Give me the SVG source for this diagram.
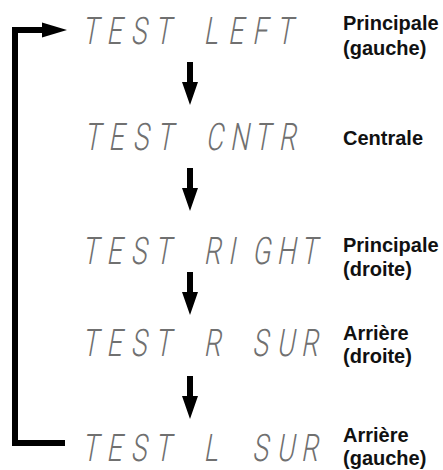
<svg xmlns="http://www.w3.org/2000/svg" width="443" height="470" viewBox="0 0 443 470">
<defs>
<style>
.lcd{font-family:Roboto,"Liberation Sans",sans-serif;font-weight:300;font-size:38px;fill:#707070}
.lbl{font-family:"Liberation Sans",Arial,sans-serif;font-weight:bold;font-size:20px;fill:#111}
.ln{stroke:#000;stroke-width:6;fill:none}
.hd{fill:#000}
</style>
<path id="dn" d="M-3,0 H3 V20 H8 L0,43 L-8,20 H-3 Z"/>
</defs>
<rect width="443" height="470" fill="#fff"/>
<g id="n1">
<text class="lcd" transform="translate(82,44) skewX(-10) scale(0.7,1)" x="0 34.7 69.4 104.1 138.9 173.6 208.3 243 277.7">TEST LEFT</text>
<text class="lbl" x="343" y="30">Principale</text>
<text class="lbl" x="343" y="55">(gauche)</text>
</g>
<g id="n2">
<text class="lcd" transform="translate(84,150) skewX(-10) scale(0.7,1)" x="0 34.7 69.4 104.1 138.9 173.6 208.3 243 277.7">TEST CNTR</text>
<text class="lbl" x="343" y="145">Centrale</text>
</g>
<g id="n3">
<text class="lcd" transform="translate(82,264) skewX(-10) scale(0.7,1)" x="0 34.7 69.4 104.1 138.9 173.6 208.3 243 277.7 312.4">TEST RIGHT</text>
<text class="lbl" x="343" y="252">Principale</text>
<text class="lbl" x="343" y="276">(droite)</text>
</g>
<g id="n4">
<text class="lcd" transform="translate(82,356) skewX(-10) scale(0.7,1)" x="0 34.7 69.4 104.1 138.9 173.6 208.3 243 277.7 312.4">TEST R SUR</text>
<text class="lbl" x="343" y="340">Arrière</text>
<text class="lbl" x="343" y="363">(droite)</text>
</g>
<g id="n5">
<text class="lcd" transform="translate(82,461) skewX(-10) scale(0.7,1)" x="0 34.7 69.4 104.1 138.9 173.6 208.3 243 277.7 312.4">TEST L SUR</text>
<text class="lbl" x="343" y="442">Arrière</text>
<text class="lbl" x="343" y="465">(gauche)</text>
</g>
<g id="connectors">
<use href="#dn" class="hd" x="190" y="62"/>
<use href="#dn" class="hd" x="190" y="168"/>
<use href="#dn" class="hd" x="190" y="272"/>
<use href="#dn" class="hd" x="190" y="376"/>
<path class="ln" d="M65,443 H15 V30 H44"/>
<path class="hd" d="M42,22.5 L67,30 L42,37.5 Z"/>
</g>
</svg>
